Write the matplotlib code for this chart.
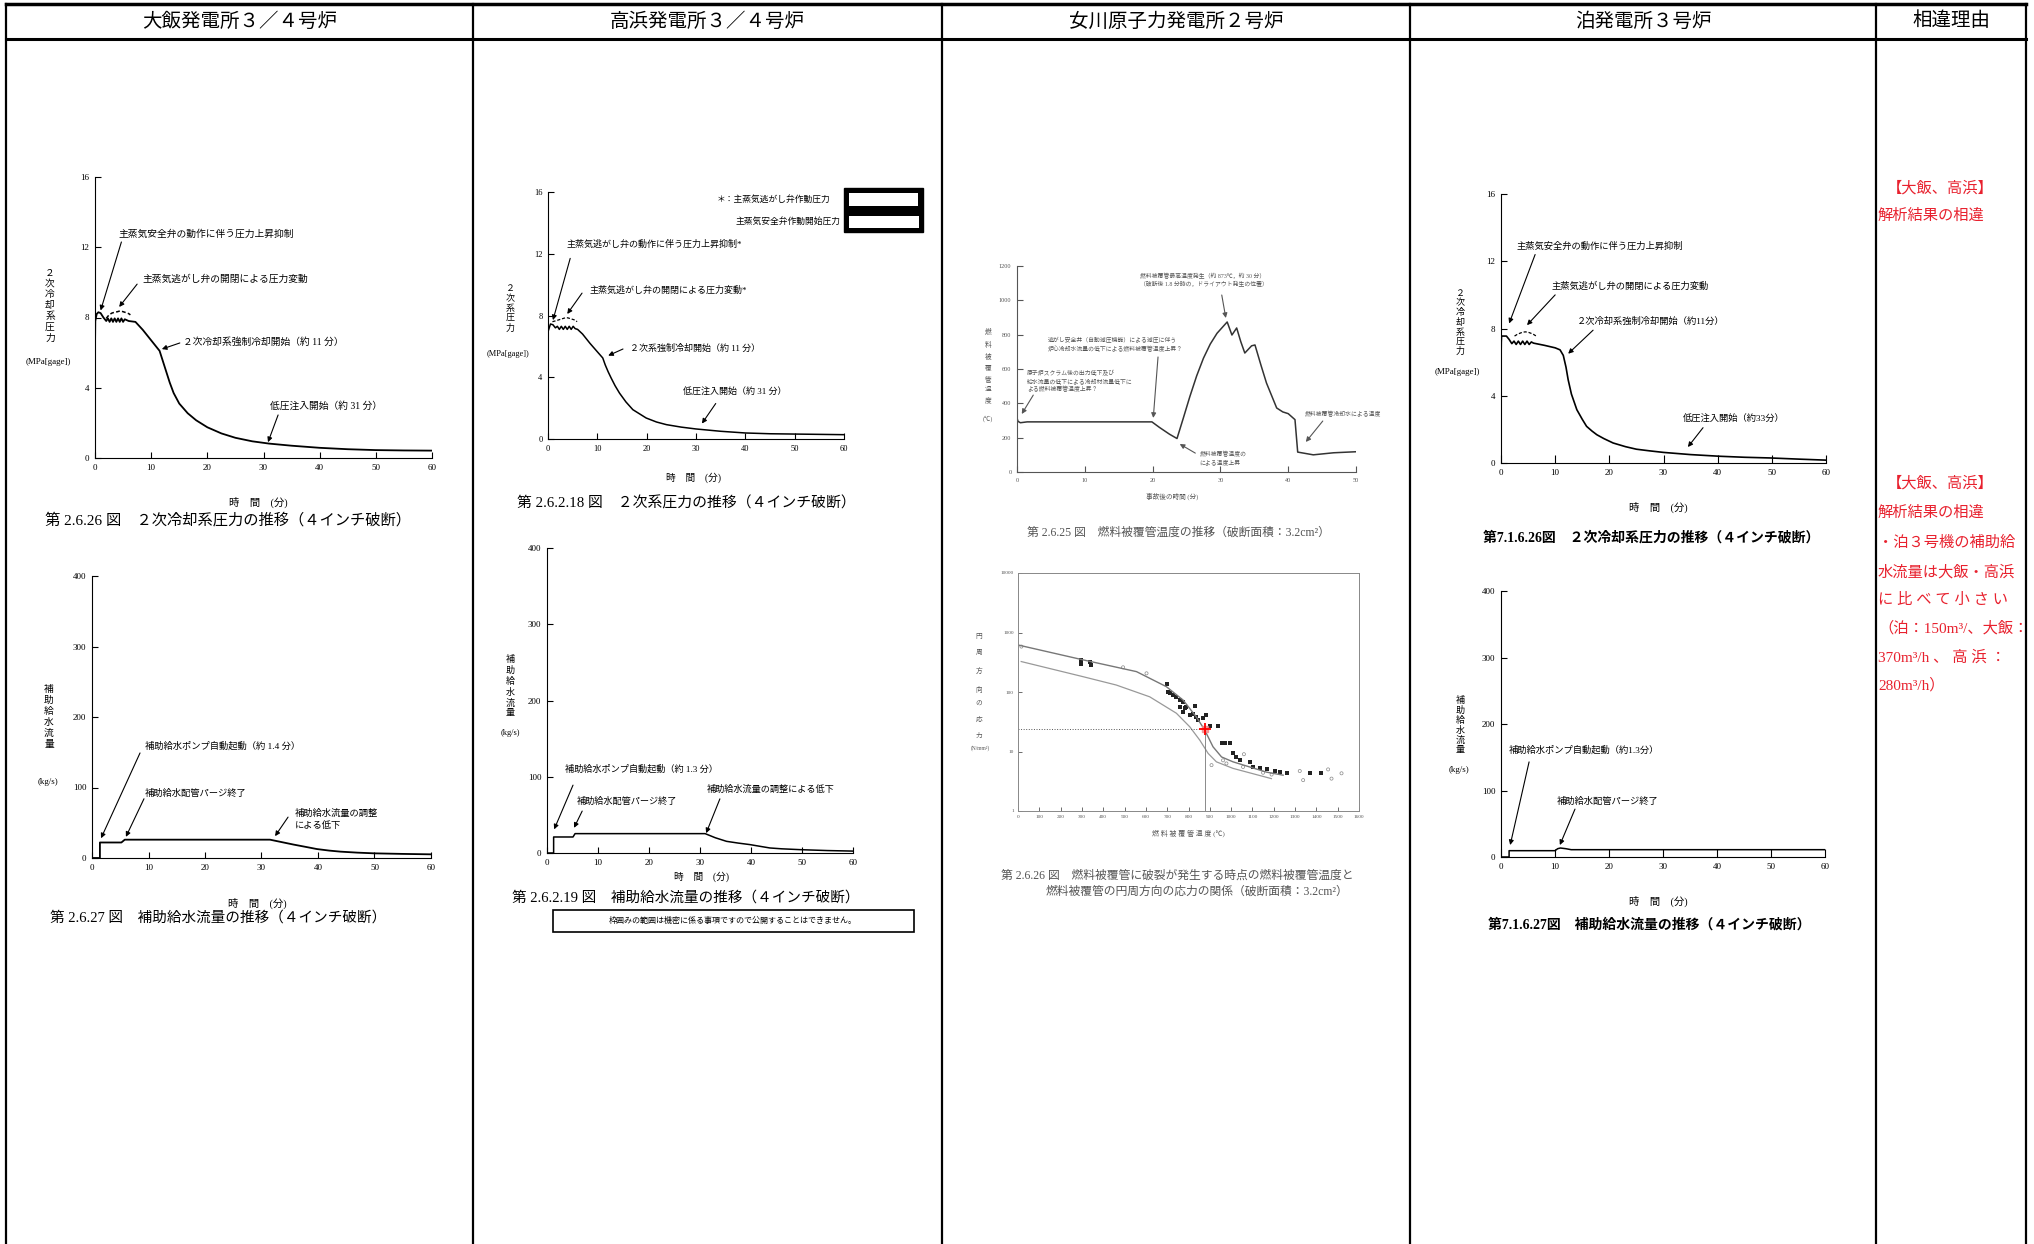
import matplotlib
matplotlib.use('Agg')
import matplotlib.pyplot as plt
from matplotlib.patches import Rectangle

plt.rcParams['font.family'] = ['Liberation Serif', 'Noto Sans CJK JP']
plt.rcParams['axes.linewidth'] = 0.8

W, H = 2034, 1244

# ---------------- データ ----------------
headers = ['大飯発電所３／４号炉', '高浜発電所３／４号炉', '女川原子力発電所２号炉', '泊発電所３号炉', '相違理由']

# 大飯 2次冷却系圧力
ohi_p_t = [0, 0.05, 0.3, 0.6, 1.0, 1.5, 2.0, 2.3, 2.6, 2.9, 3.2, 3.5, 3.8, 4.1, 4.4, 4.7, 5.0, 5.3, 6.0, 7.2,
           8.5, 10.0, 11.5, 12.0, 12.6, 13.3, 14.0, 15.0, 16.5, 18.0, 20.0, 22.5, 25.0, 28.0, 31.0, 35.0, 40.0,
           45.0, 50.0, 55.0, 60.0]
ohi_p = [6.2, 7.8, 8.2, 8.3, 8.25, 8.0, 7.8, 7.95, 7.75, 7.95, 7.75, 7.95, 7.75, 7.95, 7.75, 7.95, 7.75, 7.9, 7.8,
         7.75, 7.3, 6.7, 6.1, 5.6, 5.0, 4.3, 3.7, 3.1, 2.55, 2.15, 1.75, 1.4, 1.15, 0.95, 0.82, 0.7, 0.58, 0.5,
         0.45, 0.43, 0.42]
ohi_d_t = [2.0, 2.5, 3.0, 3.5, 4.0, 4.5, 5.0, 5.5, 6.0, 6.3]
ohi_d = [7.95, 8.15, 8.25, 8.3, 8.33, 8.38, 8.33, 8.28, 8.22, 8.15]

# 大飯 補助給水流量
ohi_f_t = [0, 1.4, 1.4, 5.2, 5.8, 31.5, 33.0, 35.7, 38.0, 39.8, 42.0, 44.0, 47.0, 50.0, 55.0, 60.0]
ohi_f = [0, 0, 22, 22, 26, 26, 23.5, 19, 15.5, 12.7, 10.5, 9, 7.6, 6.6, 5.8, 5.2]

# 高浜 2次系圧力
tk_p_t = [0, 0.05, 0.5, 1.0, 1.5, 1.9, 2.3, 2.7, 3.1, 3.5, 3.9, 4.3, 4.7, 5.1, 5.5, 6.0, 7.0, 8.5, 10.0, 11.1,
          11.6, 12.2, 12.8, 13.6, 14.5, 15.8, 17.2, 19.9, 22.0, 24.0, 27.0, 30.0, 35.0, 40.0, 45.0, 50.0, 55.0, 60.0]
tk_p = [5.6, 7.0, 7.45, 7.4, 7.2, 7.3, 7.1, 7.3, 7.1, 7.3, 7.1, 7.3, 7.1, 7.3, 7.15, 7.1, 6.8, 6.2, 5.65, 5.25,
        4.8, 4.35, 3.95, 3.45, 2.97, 2.4, 1.9, 1.36, 1.1, 0.93, 0.77, 0.65, 0.5, 0.39, 0.34, 0.32, 0.3, 0.28]
tk_d_t = [0.9, 1.5, 2.0, 2.5, 3.0, 3.5, 4.0, 4.5, 5.0, 5.5, 5.9]
tk_d = [7.6, 7.65, 7.7, 7.75, 7.8, 7.85, 7.85, 7.8, 7.75, 7.7, 7.6]

# 高浜 補助給水流量
tk_f_t = [0, 1.3, 1.3, 5.1, 5.5, 31.0, 33.0, 35.2, 37.5, 39.8, 42.0, 43.7, 46.0, 49.6, 55.0, 60.0]
tk_f = [0, 0, 21, 21, 25.4, 25.4, 20, 15.3, 13, 11, 8.5, 6.6, 5.5, 4.4, 3.2, 2.5]

# 女川 燃料被覆管温度
on_t_t = [0, 0.15, 0.5, 1.5, 10, 19.9, 21.0, 22.5, 23.6, 24.5, 25.5, 26.5, 27.5, 28.5, 29.5, 31.0, 31.7, 32.4,
          33.0, 33.6, 34.6, 35.1, 36.0, 36.8, 38.3, 39.2, 40.0, 41.0, 41.4, 43.7, 46.7, 50.0]
on_t = [314, 295, 287, 292, 292, 292, 260, 220, 195, 310, 440, 560, 663, 745, 808, 874, 798, 839, 760, 693, 735,
        740, 620, 518, 373, 350, 340, 305, 116, 100, 112, 118]

# 女川 破裂時温度と応力
fit_x = [0, 305, 556, 696, 775, 837, 876, 915, 955, 1009, 1166, 1244]
fit_y = [617, 347, 220, 123, 73, 38, 23, 12, 8.1, 6.7, 4.5, 4.0]
sig_x = [15, 305, 461, 618, 743, 806, 853, 892, 931, 1009, 1189]
sig_y = [325, 181, 131, 83, 44, 26, 15.5, 9.3, 6.7, 5.2, 3.5]
dark_x = [297, 297, 344, 336, 697, 704, 712, 728, 743, 759, 775, 759, 782, 775, 790, 806, 822, 837, 829, 869, 845,
          884, 900, 939, 955, 970, 994, 1009, 1025, 1041, 1088, 1103, 1135, 1166, 1205, 1228, 1260, 1369, 1424]
dark_y = [347, 300, 285, 325, 134, 101, 95, 89, 83, 73, 68, 56, 53, 47, 56, 41, 43, 38, 58, 37, 34,
          41, 27, 27, 14, 14, 14, 9.3, 8.1, 7.1, 6.7, 5.5, 5.2, 5.0, 4.7, 4.5, 4.3, 4.3, 4.3]
light_x = [16, 493, 603, 962, 978, 1056, 1322, 1455, 1471, 1518, 1338, 908, 1150, 1190, 1060]
light_y = [580, 260, 206, 7.1, 6.3, 5.5, 4.7, 5.0, 3.5, 4.3, 3.3, 5.9, 4.4, 4.1, 9.0]
pct_x, pct_y = 876, 24

# 泊 2次冷却系圧力
tm_p_t = [0, 0.05, 0.1, 1.0, 1.5, 2.0, 2.4, 2.8, 3.2, 3.6, 4.0, 4.4, 4.8, 5.2, 5.6, 6.0, 8.0, 10.0, 10.9, 11.5,
          12.0, 12.4, 13.0, 14.0, 15.0, 15.8, 16.8, 17.7, 19.0, 20.7, 23.0, 25.0, 27.5, 30.0, 35.0, 40.4, 45.0,
          49.7, 55.0, 60.0]
tm_p = [5.9, 7.2, 7.55, 7.55, 7.35, 7.1, 7.25, 7.05, 7.25, 7.05, 7.25, 7.05, 7.25, 7.05, 7.2, 7.13, 7.0, 6.85,
        6.73, 6.4, 5.7, 4.95, 4.1, 3.17, 2.6, 2.18, 1.9, 1.68, 1.45, 1.19, 0.97, 0.82, 0.72, 0.63, 0.5, 0.4, 0.34,
        0.3, 0.23, 0.17]
tm_d_t = [2.5, 3.0, 3.5, 4.0, 4.5, 5.0, 5.5, 6.0, 6.5]
tm_d = [7.55, 7.65, 7.72, 7.78, 7.8, 7.78, 7.72, 7.65, 7.55]

# 泊 補助給水流量
tm_f_t = [0, 1.5, 1.5, 10.0, 10.5, 11.0, 12.0, 13.0, 60.0]
tm_f = [0, 0, 9.5, 9.5, 12.5, 13.5, 12.5, 11, 11]

legend_rows = ['◇GEAP-4765', '×ORNL-3093', '●ORNL_NUREG-0630', '□GEAP-5100',
               '○GE/ANCE/ATC/43(1)+(Kalbreabrauf)データ(1)', '△GE/ANCE/ATC/45(1)+(Kalbreabrauf)データ(2)',
               '▲GE/ANCE/ATC/46(1)+(Kalbreabrauf)データ(3)', '◆GE/ANCE/ATC/47(1)+(Kalbreabrauf)データ(4)',
               '▽GE/ANCE/ATC/48(1)+(Kalbreabrauf)データ(5)', '＊GE/ANCE/ATC/49(1)+(Kalbreabrauf)データ(6)',
               '+NUREG-0630+TAF(ORNL+EPRI)', '■NUREG-0630+TAF(EPRI)', '◎NUREG-0630+TAF(KfK)',
               '▼NUREG-0630+TAF(KWU)', '●KfK/IE/REBEKA(燃料棒)data+all', '◁KfK内圧破裂試験', '▷PCT内圧破裂試験']

red_lines = [('【大飯、高浜】', 1887, 188), ('解析結果の相違', 1878, 216),
             ('【大飯、高浜】', 1887, 483), ('解析結果の相違', 1878, 513),
             ('・泊３号機の補助給', 1878, 543), ('水流量は大飯・高浜', 1878, 572),
             ('に 比 べ て 小 さ い', 1878, 600), ('（泊：150m³/、大飯：', 1878, 628),
             ('370m³/h 、 高 浜 ：', 1878, 657), ('280m³/h）', 1878, 685)]

# ---------------- 図 ----------------
fig = plt.figure(figsize=(W / 100, H / 100), dpi=100)
bg = fig.add_axes([0, 0, 1, 1])
bg.set_xlim(0, W)
bg.set_ylim(H, 0)
bg.axis('off')

# 表の罫線
cols = [6, 473, 942, 1410, 1876, 2026]
bg.plot([cols[0], cols[-1]], [4, 4], color='k', lw=2.5)
bg.plot([cols[0], cols[-1]], [39, 39], color='k', lw=2.2)
for c in cols:
    bg.plot([c, c], [4, H], color='k', lw=1.6)
for i, h in enumerate(headers):
    bg.text((cols[i] + cols[i + 1]) / 2, 21, h, ha='center', va='center', fontsize=14,
            family=['Noto Sans CJK JP'])


def px_axes(x0, y0, x1, y1):
    return fig.add_axes([x0 / W, 1 - y1 / H, (x1 - x0) / W, (y1 - y0) / H])


def style(ax, xmax, ymax, xstep, ystep, size=6.5, color='k'):
    ax.set_xlim(0, xmax)
    ax.set_ylim(0, ymax)
    ax.set_xticks(range(0, xmax + 1, xstep))
    ax.set_yticks(range(0, ymax + 1, ystep))
    for s in ['top', 'right']:
        ax.spines[s].set_visible(False)
    for s in ['left', 'bottom']:
        ax.spines[s].set_color(color)
    ax.tick_params(direction='in', length=4, width=0.8, labelsize=size, pad=4, colors=color)
    ax.patch.set_alpha(0)


def note(ax, s, xy, tail, tip, size=6.8, color='k'):
    ax.text(xy[0], xy[1], s, fontsize=size, va='center', ha='left', color=color, linespacing=1.4)
    ax.annotate('', xy=tip, xytext=tail, annotation_clip=False,
                arrowprops=dict(arrowstyle='-|>', color=color, lw=0.8, mutation_scale=7, shrinkA=0, shrinkB=0))


def vlabel(x, y, s, size=7, ls=1.3, color='k'):
    bg.text(x, y, '\n'.join(s), ha='center', va='center', fontsize=size, linespacing=ls, color=color)


def txt(x, y, s, size=7, ha='center', color='k', **kw):
    bg.text(x, y, s, ha=ha, va='center', fontsize=size, color=color, **kw)


# 大飯 圧力
ax1 = px_axes(95, 177, 432, 458)
style(ax1, 60, 16, 10, 4)
ax1.plot(ohi_p_t, ohi_p, color='k', lw=1.3)
ax1.plot(ohi_d_t, ohi_d, color='k', lw=1.1, ls=(0, (2.5, 1.5)))
note(ax1, '主蒸気安全弁の動作に伴う圧力上昇抑制', (4.1, 12.75), (4.7, 12.3), (1.0, 8.4), size=7)
note(ax1, '主蒸気逃がし弁の開閉による圧力変動', (8.5, 10.2), (7.5, 9.9), (4.3, 8.6), size=7)
note(ax1, '２次冷却系強制冷却開始（約 11 分）', (15.7, 6.6), (15.1, 6.55), (11.9, 6.2), size=7)
note(ax1, '低圧注入開始（約 31 分）', (31.2, 2.96), (32.6, 2.45), (30.8, 0.9), size=7)
vlabel(50, 306, '２次冷却系圧力', size=7, ls=1.25)
txt(48, 362, '(MPa[gage])', size=6.5)
txt(258, 502, '時　間　(分)', size=7.5)
txt(45, 520, '第 2.6.26 図　２次冷却系圧力の推移（４インチ破断）', size=11, ha='left')

# 大飯 流量
ax2 = px_axes(92, 576, 431, 858)
style(ax2, 60, 400, 10, 100)
ax2.plot(ohi_f_t, ohi_f, color='k', lw=1.3)
note(ax2, '補助給水ポンプ自動起動（約 1.4 分）', (9.4, 159), (8.5, 149), (1.6, 28), size=6.7)
note(ax2, '補助給水配管パージ終了', (9.4, 92), (9.2, 84), (6.0, 30), size=6.7)
note(ax2, '補助給水流量の調整\nによる低下', (35.9, 55), (34.7, 58), (32.4, 31), size=6.7)
vlabel(49, 717, '補助給水流量', size=7, ls=1.25)
txt(48, 782, '(kg/s)', size=6.5)
txt(257, 903, '時　間　(分)', size=7.5)
txt(50, 918, '第 2.6.27 図　補助給水流量の推移（４インチ破断）', size=10.5, ha='left')

# 高浜 圧力
ax3 = px_axes(548, 192, 844, 439)
style(ax3, 60, 16, 10, 4, size=6)
ax3.plot(tk_p_t, tk_p, color='k', lw=1.1)
ax3.plot(tk_d_t, tk_d, color='k', lw=0.9, ls=(0, (2.5, 1.5)))
note(ax3, '主蒸気逃がし弁の動作に伴う圧力上昇抑制*', (3.85, 12.6), (4.5, 11.7), (1.0, 7.7), size=6.5)
note(ax3, '主蒸気逃がし弁の開閉による圧力変動*', (8.5, 9.6), (6.9, 9.45), (3.9, 8.1), size=6.5)
note(ax3, '２次系強制冷却開始（約 11 分）', (16.6, 5.9), (15.2, 5.83), (12.2, 5.4), size=6.5)
note(ax3, '低圧注入開始（約 31 分）', (27.4, 3.0), (34.0, 2.3), (31.2, 1.0), size=6.5)
txt(830, 199, '＊：主蒸気逃がし弁作動圧力', size=6.3, ha='right')
txt(841, 221, '主蒸気安全弁作動開始圧力', size=6.3, ha='right')
bg.add_patch(Rectangle((844, 188), 79, 44, facecolor='k', edgecolor='k'))
bg.add_patch(Rectangle((849, 192.5), 69, 13, facecolor='w', edgecolor='none'))
bg.add_patch(Rectangle((849, 215.5), 70, 12, facecolor='w', edgecolor='none'))
vlabel(510, 309, '２次系圧力', size=6.5, ls=1.25)
txt(508, 354, '(MPa[gage])', size=6)
txt(693, 478, '時　間　(分)', size=7)
txt(517, 503, '第 2.6.2.18 図　２次系圧力の推移（４インチ破断）', size=10.7, ha='left')

# 高浜 流量
ax4 = px_axes(547, 548, 853, 853)
style(ax4, 60, 400, 10, 100, size=6.5)
ax4.plot(tk_f_t, tk_f, color='k', lw=1.1)
note(ax4, '補助給水ポンプ自動起動（約 1.3 分）', (3.5, 110), (5.1, 89), (1.4, 31), size=6.6)
note(ax4, '補助給水配管パージ終了', (5.9, 68), (6.9, 55), (5.3, 33), size=6.6)
note(ax4, '補助給水流量の調整による低下', (31.4, 84), (33.9, 71), (31.2, 26), size=6.6)
vlabel(510, 686, '補助給水流量', size=6.5, ls=1.25)
txt(510, 733, '(kg/s)', size=6)
txt(702, 877, '時　間　(分)', size=7)
txt(512, 898, '第 2.6.2.19 図　補助給水流量の推移（４インチ破断）', size=10.5, ha='left')
bg.add_patch(Rectangle((553, 910), 361, 22, facecolor='none', edgecolor='k', lw=1.2))
txt(733, 921, '枠囲みの範囲は機密に係る事項ですので公開することはできません。', size=5.8)

# 女川 温度
g = '#555555'
ax5 = px_axes(1017, 266, 1356, 472)
style(ax5, 50, 1200, 10, 200, size=4.5, color=g)
ax5.plot(on_t_t, on_t, color='#333333', lw=1.1)
note(ax5, '燃料被覆管最高温度発生（約 873℃，約 30 分）\n（破断後 1.8 分時の，ドライアウト発生の位置）',
     (18.1, 1118), (30.2, 1031), (30.8, 897), size=4.2, color=g)
note(ax5, '逃がし安全弁（自動減圧機能）による減圧に伴う\n炉心冷却水流量の低下による燃料被覆管温度上昇？',
     (4.6, 743), (20.8, 670), (20.1, 315), size=4.2, color=g)
note(ax5, '原子炉スクラム後の出力低下及び\n給水流量の低下による冷却材流量低下に\nよる燃料被覆管温度上昇？',
     (1.5, 530), (2.4, 448), (0.7, 338), size=4.2, color=g)
note(ax5, '燃料被覆管冷却水による温度', (42.5, 338), (45.1, 297), (42.6, 175), size=4.2, color=g)
note(ax5, '燃料被覆管温度の\nによる温度上昇', (26.9, 82), (26.3, 110), (24.0, 163), size=4.2, color=g)
vlabel(988, 366, '燃料被覆管温度', size=4.8, ls=1.9, color=g)
txt(988, 419, '(℃)', size=4.5, color=g)
txt(1172, 496, '事故後の時間 (分)', size=4.8, color=g)
txt(1027, 533, '第 2.6.25 図　燃料被覆管温度の推移（破断面積：3.2cm²）', size=8.5, ha='left', color=g)

# 女川 応力
ax6 = px_axes(1018, 573, 1359, 811)
ax6.set_yscale('log')
ax6.set_xlim(0, 1600)
ax6.set_ylim(1, 10000)
ax6.set_xticks(range(0, 1601, 100))
ax6.set_yticks([1, 10, 100, 1000, 10000])
ax6.set_yticklabels(['1', '10', '100', '1000', '10000'])
ax6.minorticks_off()
ax6.tick_params(direction='in', length=3, width=0.6, labelsize=3.8, colors=g, pad=3)
for s in ax6.spines.values():
    s.set_color('#888888')
    s.set_linewidth(0.7)
ax6.plot(fit_x, fit_y, color='#777777', lw=1.0)
ax6.plot(sig_x, sig_y, color='#999999', lw=0.9)
ax6.scatter(dark_x, dark_y, s=7, c='#222222', marker='s', linewidths=0)
ax6.scatter(light_x, light_y, s=5, facecolors='none', edgecolors='#888888', linewidths=0.5)
ax6.plot([0, pct_x], [pct_y, pct_y], color='#555555', lw=0.7, ls=':')
ax6.plot([pct_x, pct_x], [1, pct_y], color='#777777', lw=0.6)
ax6.plot([pct_x], [pct_y], marker='s', ms=5, color='#e88', alpha=0.8)
ax6.plot([pct_x], [pct_y], marker='+', ms=9, mew=1.3, color='red')
bg.add_patch(Rectangle((1023, 579), 194, 24, facecolor='none', edgecolor='#999999', lw=0.7))
bg.plot([1037], [594], marker='+', ms=8, mew=1.2, color='red')
txt(1047, 594, '燃料被覆管の最高温度及びPCT円周方向応力の最大値', size=4, ha='left', color=g)
for i, r in enumerate(legend_rows):
    txt(1228, 577 + i * 7.9, r, size=3.3, ha='left', color='#444444')
bg.plot([1273, 1293], [720, 720], color='#777777', lw=0.8)
txt(1296, 720, 'ベストフィット曲線', size=3.6, ha='left', color='#444444')
bg.plot([1273, 1293], [735, 735], color='#777777', lw=0.8, ls=(0, (2, 1)))
txt(1296, 735, '平均値－2σ曲線', size=3.6, ha='left', color='#444444')
vlabel(979, 686, '円周方向の応力', size=4.8, ls=3.0, color=g)
txt(980, 748, '(N/mm²)', size=4, color=g)
txt(1188, 833, '燃 料 被 覆 管 温 度 (℃)', size=5, color=g)
txt(1001, 876, '第 2.6.26 図　燃料被覆管に破裂が発生する時点の燃料被覆管温度と', size=8.5, ha='left', color=g)
txt(1046, 892, '燃料被覆管の円周方向の応力の関係（破断面積：3.2cm²）', size=8.5, ha='left', color=g)

# 泊 圧力
ax7 = px_axes(1501, 194, 1826, 463)
style(ax7, 60, 16, 10, 4)
ax7.tick_params(axis='x', length=6)
ax7.plot(tm_p_t, tm_p, color='k', lw=1.2)
ax7.plot(tm_d_t, tm_d, color='k', lw=0.9, ls=(0, (2.5, 1.5)))
note(ax7, '主蒸気安全弁の動作に伴う圧力上昇抑制', (2.95, 12.9), (6.3, 12.4), (1.5, 8.3), size=6.7)
note(ax7, '主蒸気逃がし弁の開閉による圧力変動', (9.4, 10.5), (10.0, 10.0), (4.8, 8.2), size=6.7)
note(ax7, '２次冷却系強制冷却開始（約11分）', (14.0, 8.45), (17.0, 7.9), (12.4, 6.5), size=6.7)
note(ax7, '低圧注入開始（約33分）', (33.6, 2.6), (37.3, 2.1), (34.5, 0.95), size=6.7)
vlabel(1460, 323, '２次冷却系圧力', size=6.5, ls=1.15)
txt(1457, 372, '(MPa[gage])', size=6.5)
txt(1658, 507, '時　間　(分)', size=7.5)
txt(1483, 538, '第7.1.6.26図　２次冷却系圧力の推移（４インチ破断）', size=10, ha='left', fontweight='bold')

# 泊 流量
ax8 = px_axes(1501, 591, 1825, 857)
style(ax8, 60, 400, 10, 100)
ax8.tick_params(axis='x', length=6)
ax8.plot(tm_f_t, tm_f, color='k', lw=1.1)
note(ax8, '補助給水ポンプ自動起動（約1.3分）', (1.5, 161), (5.2, 143), (1.7, 18), size=6.7)
note(ax8, '補助給水配管パージ終了', (10.4, 84), (13.7, 72), (10.9, 18), size=6.7)
vlabel(1460, 725, '補助給水流量', size=6.5, ls=1.15)
txt(1459, 770, '(kg/s)', size=6.5)
txt(1658, 901, '時　間　(分)', size=7.5)
txt(1488, 925, '第7.1.6.27図　補助給水流量の推移（４インチ破断）', size=10, ha='left', fontweight='bold')

# 相違理由
for s, x, y in red_lines:
    txt(x, y, s, size=11, ha='left', color='#e8212e', family=['Liberation Serif', 'Noto Sans CJK JP'])

fig.savefig('out.png', dpi=100)
